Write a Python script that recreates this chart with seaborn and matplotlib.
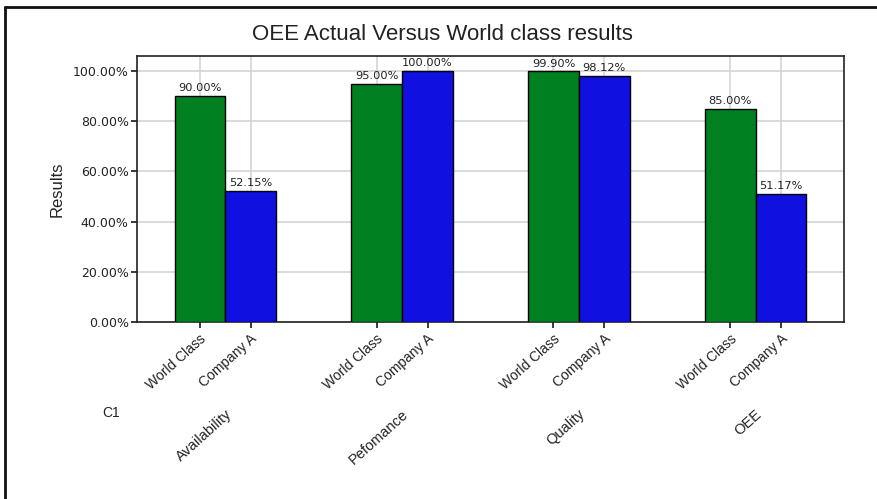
import matplotlib
matplotlib.use("Agg")
import matplotlib.pyplot as plt
import matplotlib.transforms as mtransforms
from matplotlib.lines import Line2D
import seaborn as sns
import pandas as pd

categories = ["Availability", "Pefomance", "Quality", "OEE"]
series = ["World Class", "Company A"]
world_class = [0.90, 0.95, 0.999, 0.85]
company_a = [0.5215, 1.00, 0.9812, 0.5117]
value_labels_wc = ["90.00%", "95.00%", "99.90%", "85.00%"]
value_labels_ca = ["52.15%", "100.00%", "98.12%", "51.17%"]
y_ticks = [0.0, 0.2, 0.4, 0.6, 0.8, 1.0]
y_tick_labels = ["0.00%", "20.00%", "40.00%", "60.00%", "80.00%", "100.00%"]
colors = ["#008020", "#1010E0"]

rows = []
for i, c in enumerate(categories):
    rows.append({"cat": c, "series": series[0], "val": world_class[i]})
    rows.append({"cat": c, "series": series[1], "val": company_a[i]})
df = pd.DataFrame(rows)

sns.set_theme(style="white")
plt.rcParams["font.family"] = ["Liberation Sans", "DejaVu Sans"]

fig = plt.figure(figsize=(8.78, 4.99), dpi=100)
ax = fig.add_axes([137 / 878, 1 - 322 / 499, (844 - 137) / 878, (322 - 56) / 499])

sns.barplot(data=df, x="cat", y="val", hue="series", hue_order=series,
            order=categories, palette=colors, width=0.575, ax=ax,
            edgecolor="black", linewidth=1.0, saturation=1, legend=False,
            errorbar=None, zorder=3)

ax.set_xlim(-0.5, 3.5)
ax.set_ylim(0, 1.06)
ax.set_yticks(y_ticks)
ax.set_yticklabels(y_tick_labels, fontsize=9, family="DejaVu Sans", color="#222222")
ax.set_ylabel("Results", fontsize=12, color="#222222", labelpad=6)
ax.set_xlabel("")

# bar centres from the drawn patches
patches = sorted([p for p in ax.patches if p.get_height() > 0], key=lambda p: p.get_x())
centers = [p.get_x() + p.get_width() / 2 for p in patches]
ax.set_xticks(centers)
ax.set_xticklabels([])
tick_names = [series[0], series[1]] * len(categories)
tick_trans = mtransforms.offset_copy(ax.get_xaxis_transform(), fig=fig,
                                     x=9, y=-10, units="dots")
for xc, name in zip(centers, tick_names):
    ax.text(xc, 0, name, transform=tick_trans, rotation=42, ha="right",
            va="top", fontsize=10, color="#222222")
ax.tick_params(axis="x", length=4, color="#222222", pad=3, bottom=True)
ax.tick_params(axis="y", length=4, color="#222222", pad=2, left=True)

# grid
ax.grid(True, color="#d4d4d4", linewidth=1.2, zorder=0)
ax.set_axisbelow(True)
for s in ax.spines.values():
    s.set_color("#222222")
    s.set_linewidth(1.2)
    s.set_visible(True)

# data labels
all_labels = []
for i in range(len(categories)):
    all_labels.append(value_labels_wc[i])
    all_labels.append(value_labels_ca[i])
for p, lab in zip(patches, all_labels):
    ax.annotate(lab, (p.get_x() + p.get_width() / 2, p.get_height()),
                xytext=(0, 2), textcoords="offset points", ha="center",
                va="bottom", fontsize=8.2, family="DejaVu Sans",
                color="#222222", annotation_clip=False, zorder=5)

# group labels
group_trans = mtransforms.offset_copy(ax.get_xaxis_transform(), fig=fig,
                                      x=9, y=-85, units="dots")
for i, c in enumerate(categories):
    ax.text(i, 0, c, transform=group_trans, rotation=42, ha="right", va="top",
            fontsize=10.5, color="#222222")

fig.text(111 / 878, 1 - 413 / 499, "C1", fontsize=10, color="#222222",
         ha="center", va="center")

fig.text(442 / 878, 1 - 35 / 499, "OEE Actual Versus World class results",
         fontsize=16, color="#222222", ha="center", va="center")

# outer frame
fig.add_artist(Line2D([5 / 878, 5 / 878], [0, 1 - 7 / 499], transform=fig.transFigure,
                      color="#111111", linewidth=2))
fig.add_artist(Line2D([5 / 878, 1], [1 - 7 / 499, 1 - 7 / 499], transform=fig.transFigure,
                      color="#111111", linewidth=2))

fig.savefig("out.png", dpi=100)
